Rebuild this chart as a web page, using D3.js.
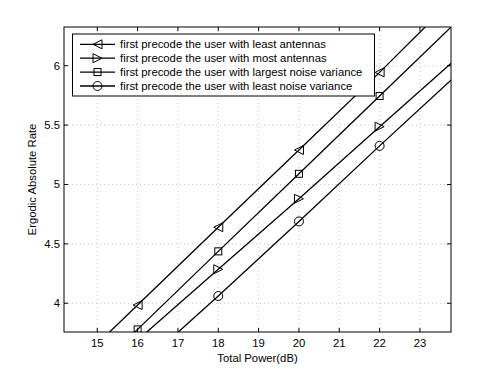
<!DOCTYPE html>
<html><head><meta charset="utf-8">
<script src="https://cdn.jsdelivr.net/npm/d3@7"></script>
<style>body{margin:0;background:#fff}svg{display:block}text{font-family:"Liberation Sans",Arial,sans-serif;fill:#000}</style>
</head><body><svg id="c" width="498" height="375"></svg>
<script>
const powers = [14, 16, 18, 20, 22, 24];
const leastAntennas = [3.33, 3.985, 4.64, 5.29, 5.944, 6.62];
const mostAntennas = [3.08, 3.69, 4.286, 4.88, 5.487, 6.09];
const largestNoise = [3.13, 3.78, 4.437, 5.09, 5.745, 6.40];
const leastNoise = [2.82, 3.45, 4.061, 4.689, 5.325, 5.95];
const seriesNames = ["first precode the user with least antennas","first precode the user with most antennas","first precode the user with largest noise variance","first precode the user with least noise variance"];
const seriesMarkers = ["triLeft","triRight","square","circle"];
const xTicks = [15,16,17,18,19,20,21,22,23];
const yTicks = [4,4.5,5,5.5,6];
const xLabel = "Total Power(dB)";
const yLabel = "Ergodic Absolute Rate";

const series = [leastAntennas, mostAntennas, largestNoise, leastNoise];
const L=64,R=451,T=27,B=332;
const FS=11.3;
const svg=d3.select("#c");
const x=d3.scaleLinear().domain([14.175,23.77]).range([L,R]);
const y=d3.scaleLinear().domain([3.758,6.326]).range([B,T]);

svg.append("rect").attr("x",L).attr("y",T).attr("width",R-L).attr("height",B-T).attr("fill","#fff");
const grid=svg.append("g").attr("stroke","#b8b8b8").attr("stroke-width",0.8).attr("stroke-dasharray","1,3");
xTicks.forEach(t=>grid.append("line").attr("x1",x(t)).attr("x2",x(t)).attr("y1",T).attr("y2",B));
yTicks.forEach(t=>grid.append("line").attr("y1",y(t)).attr("y2",y(t)).attr("x1",L).attr("x2",R));

svg.append("defs").append("clipPath").attr("id","clip").append("rect").attr("x",L).attr("y",T).attr("width",R-L).attr("height",B-T);
const plot=svg.append("g").attr("clip-path","url(#clip)");
const line=d3.line().x((d,i)=>x(powers[i])).y(d=>y(d));
function marker(g,type,cx,cy){
  const s=4.5;
  let el;
  if(type==="circle") el=g.append("circle").attr("cx",cx).attr("cy",cy).attr("r",s);
  else if(type==="square") el=g.append("rect").attr("x",cx-3.5).attr("y",cy-3.5).attr("width",7).attr("height",7);
  else if(type==="triLeft") el=g.append("path").attr("d",`M${cx-s},${cy}L${cx+s},${cy-s}L${cx+s},${cy+s}Z`);
  else el=g.append("path").attr("d",`M${cx+s},${cy}L${cx-s},${cy-s}L${cx-s},${cy+s}Z`);
  el.attr("fill","none").attr("stroke","#000").attr("stroke-width",1);
}
series.forEach((s,k)=>{
  plot.append("path").attr("d",line(s)).attr("fill","none").attr("stroke","#000").attr("stroke-width",1.3);
  s.forEach((v,i)=>marker(plot,seriesMarkers[k],x(powers[i]),y(v)));
});

// axes box & ticks
const ax=svg.append("g").attr("stroke","#000").attr("stroke-width",1);
ax.append("rect").attr("x",L).attr("y",T).attr("width",R-L).attr("height",B-T).attr("fill","none");
xTicks.forEach(t=>{ax.append("line").attr("x1",x(t)).attr("x2",x(t)).attr("y1",B).attr("y2",B-4);
  ax.append("line").attr("x1",x(t)).attr("x2",x(t)).attr("y1",T).attr("y2",T+4);});
yTicks.forEach(t=>{ax.append("line").attr("y1",y(t)).attr("y2",y(t)).attr("x1",L).attr("x2",L+4);
  ax.append("line").attr("y1",y(t)).attr("y2",y(t)).attr("x1",R).attr("x2",R-4);});
xTicks.forEach(t=>svg.append("text").attr("x",x(t)).attr("y",B+15).attr("text-anchor","middle").attr("font-size",FS).text(t));
yTicks.forEach(t=>svg.append("text").attr("x",L-4).attr("y",y(t)+4).attr("text-anchor","end").attr("font-size",FS).text(t));
svg.append("text").attr("x",(L+R)/2).attr("y",362).attr("text-anchor","middle").attr("font-size",FS).text(xLabel);
svg.append("text").attr("transform",`translate(36,${(T+B)/2}) rotate(-90)`).attr("text-anchor","middle").attr("font-size",FS).text(yLabel);

// legend
const lg=svg.append("g");
lg.append("rect").attr("x",72.5).attr("y",34).attr("width",302).attr("height",62).attr("fill","#fff").attr("stroke","#000").attr("stroke-width",1);
seriesNames.forEach((n,k)=>{
  const yy=44.3+k*13.9;
  lg.append("line").attr("x1",80).attr("x2",115).attr("y1",yy).attr("y2",yy).attr("stroke","#000").attr("stroke-width",1.3);
  marker(lg,seriesMarkers[k],97.5,yy);
  lg.append("text").attr("x",120).attr("y",yy+4).attr("font-size",FS).text(n);
});
</script></body></html>
